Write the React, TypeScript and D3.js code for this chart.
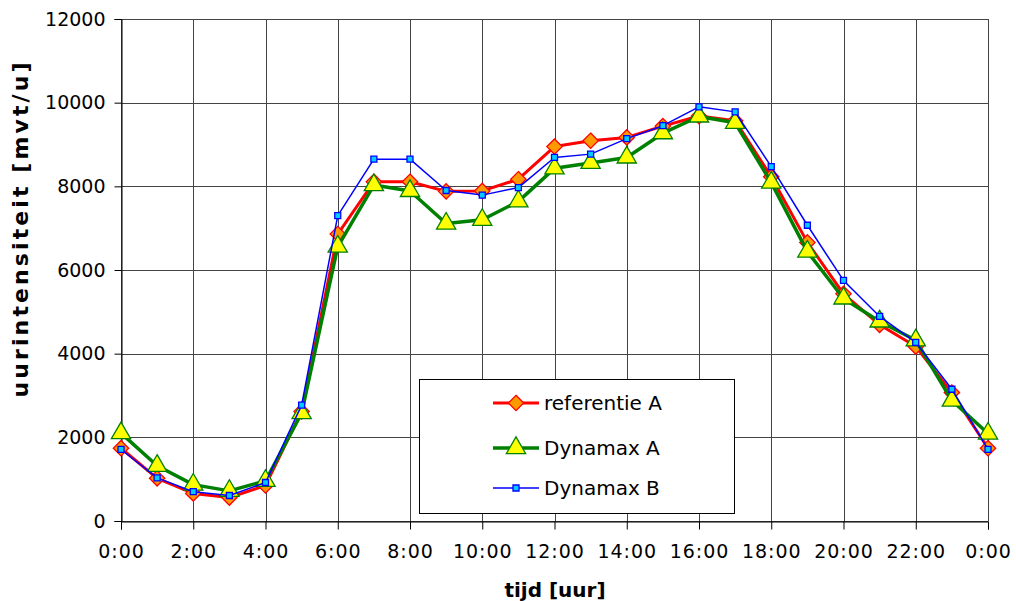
import React, { useEffect, useRef } from 'react';
import * as d3 from 'd3';

const hours = d3.range(0, 25);
const tickLabels = ['0:00', '2:00', '4:00', '6:00', '8:00', '10:00', '12:00', '14:00', '16:00', '18:00', '20:00', '22:00', '0:00'];
const yTicks = [0, 2000, 4000, 6000, 8000, 10000, 12000];

const referentieA = [1740, 1020, 660, 560, 850, 2620, 6860, 8110, 8110, 7880, 7890, 8170, 8950, 9090, 9170, 9440, 9680, 9570, 8230, 6660, 5430, 4690, 4170, 3070, 1740];
const dynamaxA = [2100, 1320, 870, 720, 960, 2580, 6560, 8030, 7890, 7110, 7200, 7640, 8430, 8560, 8690, 9270, 9670, 9520, 8090, 6440, 5320, 4770, 4320, 2880, 2090];
const dynamaxB = [1710, 1030, 700, 610, 920, 2770, 7300, 8650, 8650, 7900, 7790, 7970, 8690, 8770, 9140, 9450, 9900, 9780, 8470, 7070, 5750, 4890, 4270, 3150, 1710];

const series = [
  { name: 'referentie A', values: referentieA, color: '#ff0000', width: 3, marker: 'diamond', fill: '#ff9900' },
  { name: 'Dynamax A', values: dynamaxA, color: '#008000', width: 3.5, marker: 'triangle', fill: '#ffff00' },
  { name: 'Dynamax B', values: dynamaxB, color: '#0000ff', width: 1.5, marker: 'square', fill: '#00ccff' },
];

const W = 1016;
const H = 601;
const font = '"DejaVu Sans", Verdana, sans-serif';

function markerPath(type: string) {
  if (type === 'diamond') return d3.symbol(d3.symbolDiamond2, 150)();
  if (type === 'triangle') return d3.symbol(d3.symbolTriangle, 160)();
  return d3.symbol(d3.symbolSquare, 36)();
}

export default function App() {
  const ref = useRef<SVGSVGElement>(null);

  useEffect(() => {
    document.body.style.margin = '0';
    const svg = d3.select(ref.current);
    svg.selectAll('*').remove();

    const x = d3.scaleLinear().domain([0, 24]).range([121, 988]);
    const y = d3.scaleLinear().domain([0, 12000]).range([521, 19]);

    // grid
    const grid = svg.append('g').attr('shape-rendering', 'crispEdges');
    grid.selectAll('line.h').data(yTicks).enter().append('line')
      .attr('x1', x(0)).attr('x2', x(24))
      .attr('y1', d => Math.round(y(d)) + 0.5).attr('y2', d => Math.round(y(d)) + 0.5)
      .attr('stroke', '#444').attr('stroke-width', 1);
    grid.selectAll('line.v').data(d3.range(0, 25, 2)).enter().append('line')
      .attr('y1', y(0)).attr('y2', y(12000))
      .attr('x1', d => Math.round(x(d)) + 0.5).attr('x2', d => Math.round(x(d)) + 0.5)
      .attr('stroke', '#444').attr('stroke-width', 1);

    // axes
    const xAxis = d3.axisBottom(x).tickValues(d3.range(0, 25, 2))
      .tickFormat((d, i) => tickLabels[i]).tickSize(8).tickPadding(15);
    const gx = svg.append('g').attr('transform', `translate(0,${Math.round(y(0)) + 0.5})`).call(xAxis);
    const yAxis = d3.axisLeft(y).tickValues(yTicks).tickFormat(d3.format('d')).tickSize(7).tickPadding(9);
    const gy = svg.append('g').attr('transform', `translate(${Math.round(x(0)) + 0.5},0)`).call(yAxis);
    [gx, gy].forEach(g => {
      g.select('.domain').attr('stroke', '#000');
      g.selectAll('.tick line').attr('stroke', '#000');
      g.selectAll('.tick text').attr('fill', '#000').style('font-family', font).style('font-size', '19px');
    });
    gx.selectAll('.tick text').style('letter-spacing', '1px');

    // lines and markers
    const line = d3.line<number>().x((d, i) => x(hours[i])).y(d => y(d));
    series.forEach(s => {
      const g = svg.append('g');
      g.append('path').datum(s.values).attr('d', line)
        .attr('fill', 'none').attr('stroke', s.color).attr('stroke-width', s.width)
        .attr('stroke-linejoin', 'round');
      g.selectAll('path.m').data(s.values).enter().append('path')
        .attr('d', markerPath(s.marker))
        .attr('transform', (d, i) => `translate(${x(hours[i])},${y(d)})`)
        .attr('fill', s.fill).attr('stroke', s.color).attr('stroke-width', 1.3);
    });

    // legend
    const lg = svg.append('g');
    lg.append('rect').attr('x', 419.5).attr('y', 379.5).attr('width', 315).attr('height', 134)
      .attr('fill', '#fff').attr('stroke', '#000').attr('stroke-width', 1);
    const rows = [403, 448, 488];
    series.forEach((s, i) => {
      const r = lg.append('g').attr('transform', `translate(0,${rows[i]})`);
      r.append('line').attr('x1', 493).attr('x2', 539).attr('y1', 0).attr('y2', 0)
        .attr('stroke', s.color).attr('stroke-width', s.width);
      r.append('path').attr('d', markerPath(s.marker)).attr('transform', 'translate(516,0)')
        .attr('fill', s.fill).attr('stroke', s.color).attr('stroke-width', 1.3);
      r.append('text').attr('x', 544).attr('y', 0).attr('dy', '0.35em')
        .style('font-family', font).style('font-size', '20px').text(s.name);
    });

    // titles
    svg.append('text').attr('x', 555).attr('y', 597).attr('text-anchor', 'middle')
      .style('font-family', font).style('font-size', '20px').style('font-weight', 'bold')
      .text('tijd [uur]');
    svg.append('text').attr('transform', 'translate(28,230) rotate(-90)').attr('text-anchor', 'middle')
      .attr('textLength', 335).attr('lengthAdjust', 'spacing')
      .style('font-family', font).style('font-size', '22px').style('font-weight', 'bold')
      .text('uurintensiteit [mvt/u]');
  }, []);

  return <svg ref={ref} width={W} height={H} style={{ display: 'block', background: '#fff' }} />;
}
